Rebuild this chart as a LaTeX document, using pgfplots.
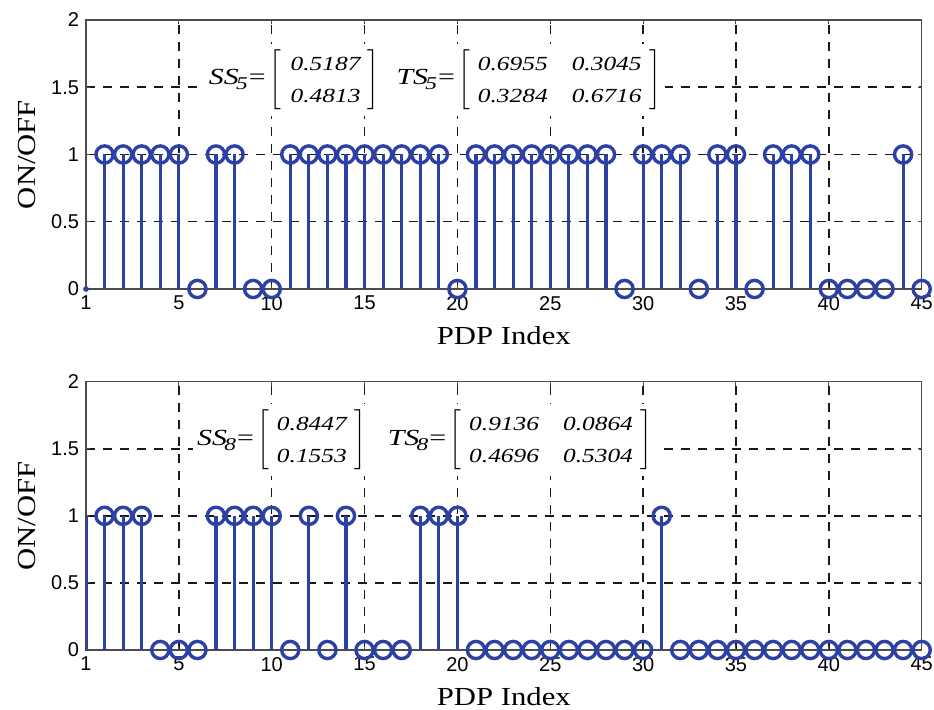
\documentclass[border=0pt]{standalone}
\usepackage{fontspec}
\setmainfont{Liberation Serif}[FakeStretch=1.18]
\setsansfont{Liberation Sans}
\newfontfamily\annfont[FakeStretch=1.3]{Liberation Serif}
\newfontfamily\entfont[FakeStretch=1.27]{Liberation Serif}
\usepackage{amsmath}
\usepackage{pgfplots}
\usepackage{pgfplotstable}
\pgfplotsset{compat=1.18}
\definecolor{stemblue}{RGB}{45,65,165}
\definecolor{gridc}{RGB}{25,25,25}

\pgfplotstableread{
x y
1 1
2 1
3 1
4 1
5 1
6 0
7 1
8 1
9 0
10 0
11 1
12 1
13 1
14 1
15 1
16 1
17 1
18 1
19 1
20 0
21 1
22 1
23 1
24 1
25 1
26 1
27 1
28 1
29 0
30 1
31 1
32 1
33 0
34 1
35 1
36 0
37 1
38 1
39 1
40 0
41 0
42 0
43 0
44 1
45 0
}\topdata

\pgfplotstableread{
x y
1 1
2 1
3 1
4 0
5 0
6 0
7 1
8 1
9 1
10 1
11 0
12 1
13 0
14 1
15 0
16 0
17 0
18 1
19 1
20 1
21 0
22 0
23 0
24 0
25 0
26 0
27 0
28 0
29 0
30 0
31 1
32 0
33 0
34 0
35 0
36 0
37 0
38 0
39 0
40 0
41 0
42 0
43 0
44 0
45 0
}\botdata

\pgfplotsset{
  myax/.style={
    scale only axis, width=417.85pt, height=134.5pt,
    xmin=0, xmax=45, ymin=0, ymax=2,
    xtick={0,5,...,45}, xticklabels={1,5,10,15,20,25,30,35,40,45},
    ytick={0,0.5,1,1.5,2}, yticklabels={0,0.5,1,1.5,2},
    grid=major,
    major grid style={gridc, dash pattern=on 4.5pt off 4pt, line width=0.75pt},
    axis line style={black!70, line width=0.6pt},
    tick style={black!70, line width=0.5pt}, major tick length=2pt, tick align=inside,
    ticklabel style={font=\sffamily\fontsize{10}{12}\selectfont},
    /pgf/number format/assume math mode=true,
    xlabel={PDP Index}, ylabel={ON/OFF},
    label style={font=\fontsize{13}{15}\selectfont},
    xlabel style={at={(axis description cs:0.5,-0.113)}, anchor=north},
    ylabel style={at={(axis description cs:-0.0706,0.5)}, anchor=center},
  },
  stemst/.style={ycomb, stemblue, line width=1.6pt, mark=o, mark size=4.3pt,
    mark options={line width=1.7pt, solid}},
}

\newcommand{\ent}[1]{\text{\entfont\itshape\fontsize{10}{12}\selectfont #1}}
\newcommand{\lett}[1]{\text{\annfont\itshape\fontsize{11.5}{14}\selectfont #1}}
\newcommand{\subs}[1]{\text{\annfont\itshape\fontsize{9}{10}\selectfont #1}}
\newcommand{\eqs}{\text{\annfont\fontsize{11.5}{14}\selectfont =}}

\begin{document}
\begin{tikzpicture}
\path[use as bounding box] (0,0) rectangle (467pt,355pt);

\begin{axis}[myax, at={(43pt,210.5pt)}, anchor=south west]
\addplot[stemst] table[x=x,y=y]{\topdata};
\addplot[stemblue, only marks, mark=*, mark size=1.2pt] coordinates {(0,0)};
\node[fill=white, inner sep=2pt] at (axis cs:18.8,1.554) {%
$\renewcommand{\arraystretch}{1.35}\nulldelimiterspace=0pt%
\lett{SS}_{\!\subs{5}}\eqs\left[\begin{array}{@{\hspace{5pt}}l@{\hspace{3.5pt}}}\ent{0.5187}\\ \ent{0.4813}\end{array}\right]%
\hspace{7pt}%
\lett{TS}_{\!\subs{5}}\eqs\left[\begin{array}{@{\hspace{4pt}}l@{\hspace{12pt}}l@{\hspace{4pt}}}\ent{0.6955}&\ent{0.3045}\\ \ent{0.3284}&\ent{0.6716}\end{array}\right]$};
\end{axis}

\begin{axis}[myax, height=134.15pt, at={(43pt,30pt)}, anchor=south west]
\addplot[stemst] table[x=x,y=y]{\botdata};
\addplot[ycomb, stemblue, line width=1.6pt, no marks] coordinates {(0,1)};
\node[fill=white, inner sep=2pt] at (axis cs:18.25,1.565) {%
$\renewcommand{\arraystretch}{1.35}\nulldelimiterspace=0pt%
\lett{SS}_{\!\subs{8}}\eqs\left[\begin{array}{@{\hspace{4pt}}l@{\hspace{4pt}}}\ent{0.8447}\\ \ent{0.1553}\end{array}\right]%
\hspace{9pt}%
\lett{TS}_{\!\subs{8}}\eqs\left[\begin{array}{@{\hspace{4pt}}l@{\hspace{12pt}}l@{\hspace{4pt}}}\ent{0.9136}&\ent{0.0864}\\ \ent{0.4696}&\ent{0.5304}\end{array}\right]$};
\end{axis}
\end{tikzpicture}
\end{document}
